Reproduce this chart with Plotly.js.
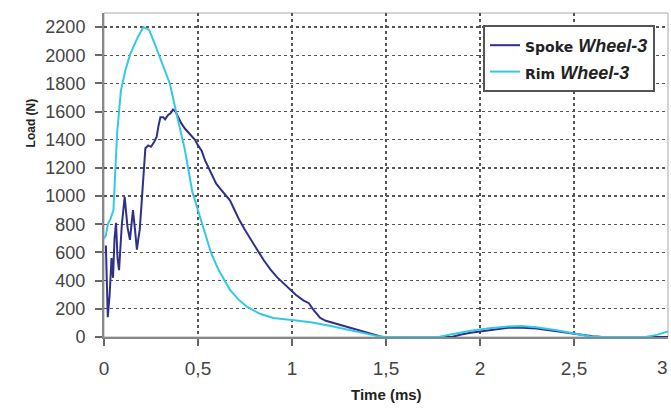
<!DOCTYPE html>
<html>
<head>
<meta charset="utf-8">
<script src="https://cdn.plot.ly/plotly-3.0.1.min.js"></script>
<style>html,body{margin:0;padding:0;background:#fff;}#chart{width:671px;height:408px;}</style>
</head>
<body>
<div id="chart"></div>
<script>
// Spoke Wheel-3 (time in ms, load in N)
const spokeTime = [0.01,0.015,0.02,0.03,0.04,0.048,0.056,0.064,0.072,0.08,0.095,0.11,0.125,0.138,0.146,0.154,0.165,0.175,0.183,0.19,0.2,0.21,0.22,0.235,0.25,0.265,0.28,0.29,0.30,0.315,0.325,0.34,0.355,0.367,0.38,0.395,0.41,0.43,0.45,0.47,0.484,0.50,0.52,0.537,0.56,0.58,0.596,0.62,0.645,0.67,0.695,0.72,0.75,0.78,0.81,0.85,0.885,0.92,0.955,0.99,1.02,1.06,1.09,1.11,1.13,1.15,1.18,1.22,1.26,1.31,1.36,1.40,1.44,1.48,1.85,1.9,1.95,2.0,2.05,2.1,2.15,2.2,2.25,2.3,2.35,2.4,2.45,2.5,2.55,2.6,2.65,3.0];
const spokeLoad = [650,420,140,300,560,420,700,810,560,475,800,995,780,690,820,900,760,620,700,760,950,1115,1340,1360,1350,1380,1420,1500,1560,1560,1545,1575,1590,1615,1600,1560,1520,1480,1450,1420,1400,1360,1320,1255,1190,1140,1090,1050,1010,970,900,830,760,690,630,545,480,425,380,335,300,260,240,200,170,135,115,100,85,65,45,30,15,0,0,18,30,40,50,58,65,68,65,60,52,42,32,22,12,5,0,0];

// Rim Wheel-3
const rimTime = [0,0.01,0.02,0.035,0.05,0.06,0.07,0.09,0.115,0.14,0.18,0.21,0.24,0.27,0.30,0.35,0.39,0.43,0.47,0.52,0.57,0.61,0.67,0.72,0.76,0.83,0.90,1.0,1.1,1.2,1.3,1.38,1.45,1.5,1.78,1.85,1.95,2.05,2.15,2.22,2.3,2.4,2.5,2.58,2.65,2.88,2.94,3.0];
const rimLoad = [700,720,800,840,900,1150,1450,1750,1900,2010,2130,2200,2180,2080,1980,1800,1560,1330,1030,810,595,475,335,260,215,165,135,120,105,80,50,25,8,0,0,20,45,62,75,78,70,50,22,5,0,0,15,40];

const xTickVals = [0,0.5,1,1.5,2,2.5,3];
const xTickText = ['0','0,5','1','1,5','2','2,5','3'];
const seriesNames = [
  '<b><span style="font-family:DejaVu Sans;font-size:14px">Spoke</span></b> <i><b>Wheel-3</b></i>',
  '<b><span style="font-family:DejaVu Sans;font-size:14px">Rim</span></b> <i><b>Wheel-3</b></i>'
];

const FAMILY = 'Arial, Liberation Sans, sans-serif';
const xTickFont = {family: FAMILY, size: 19, color: '#444'};
const yTickFont = {family: FAMILY, size: 18, color: '#444'};

const traces = [
  {x: spokeTime, y: spokeLoad, type: 'scatter', mode: 'lines', name: seriesNames[0],
   line: {color: '#2f2f8c', width: 2}},
  {x: rimTime, y: rimLoad, type: 'scatter', mode: 'lines', name: seriesNames[1],
   line: {color: '#35c8e6', width: 2}}
];

const layout = {
  width: 671, height: 408,
  margin: {l: 104, r: 3, t: 13, b: 71},
  paper_bgcolor: '#fff', plot_bgcolor: '#fff',
  showlegend: true,
  legend: {x: 0.672, y: 0.963, xanchor: 'left', yanchor: 'top',
    bgcolor: '#fff', bordercolor: '#555', borderwidth: 2,
    font: {family: FAMILY, size: 18, color: '#222'},
    tracegroupgap: 0, itemwidth: 30},
  xaxis: {range: [0, 3], tickvals: xTickVals.slice(0, 6), ticktext: xTickText.slice(0, 6),
    showgrid: true, gridcolor: '#555', griddash: '3px,3px', gridwidth: 1.3,
    showline: true, linecolor: '#888', linewidth: 2,
    ticks: 'outside', ticklen: 7, tickcolor: '#666', tickwidth: 2,
    ticklabelstandoff: 6,
    tickfont: xTickFont, zeroline: false},
  yaxis: {range: [0, 2300], tickmode: 'linear', tick0: 0, dtick: 200,
    showgrid: true, gridcolor: '#555', griddash: '3px,3px', gridwidth: 1.3,
    showline: true, linecolor: '#888', linewidth: 2,
    ticks: 'outside', ticklen: 7, tickcolor: '#666', tickwidth: 2,
    ticklabelstandoff: 6,
    tickfont: yTickFont, zeroline: false},
  shapes: [{type: 'rect', xref: 'paper', yref: 'paper', x0: 0, x1: 1, y0: 0, y1: 1,
    line: {color: '#aaa', width: 1}, layer: 'below'}],
  annotations: [
    {text: '<b>Load (N)</b>', xref: 'paper', yref: 'paper', x: -0.145, y: 0.66,
     showarrow: false, textangle: -90, font: {family: FAMILY, size: 12, color: '#222'}},
    {text: '<b>Time (ms)</b>', xref: 'paper', yref: 'paper', x: 0.5, y: -0.179,
     yanchor: 'middle', showarrow: false, font: {family: FAMILY, size: 15, color: '#222'}},
    {text: xTickText[6], xref: 'x', yref: 'paper', x: xTickVals[6], y: -0.095,
     xanchor: 'right', xshift: 2, yanchor: 'middle', showarrow: false, font: xTickFont}
  ]
};

Plotly.newPlot('chart', traces, layout, {displayModeBar: false, staticPlot: true});
</script>
</body>
</html>
